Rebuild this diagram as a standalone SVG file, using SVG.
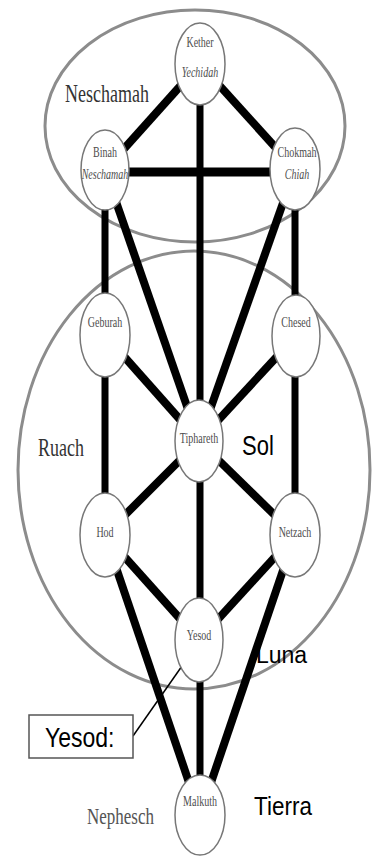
<svg xmlns="http://www.w3.org/2000/svg" width="385" height="856" viewBox="0 0 385 856">
<defs>
<style>
.big{fill:none;stroke:#8c8c8c;stroke-width:3}
.node{fill:#fff;stroke:#777;stroke-width:1.5}
.c{stroke:#000;stroke-linecap:butt;fill:none}
.lbl{font-family:"Liberation Serif",serif;font-size:10px;fill:#4d4d4d;text-anchor:middle}
.it{font-style:italic}
.sect{font-family:"Liberation Serif",serif;font-size:18px;fill:#333}
.sans{font-family:"Liberation Sans",sans-serif;fill:#000}
</style>
<marker id="ah" viewBox="0 0 10 10" refX="9" refY="5" markerWidth="7" markerHeight="7" orient="auto" markerUnits="userSpaceOnUse">
<path d="M0,0 L10,5 L0,10 z" fill="#000"/>
</marker>
</defs>
<rect width="385" height="856" fill="#fff"/>
<g id="regions">
<ellipse id="neschamah-region" class="big" cx="195" cy="126" rx="150" ry="116"/>
<ellipse id="ruach-region" class="big" cx="194" cy="470" rx="176" ry="219"/>
</g>
<g id="connectors">
<line class="c" stroke-width="8" x1="200" y1="64" x2="105" y2="170"/>
<line class="c" stroke-width="8" x1="200" y1="64" x2="295" y2="169"/>
<line class="c" stroke-width="7" x1="200" y1="64" x2="200" y2="441"/>
<line class="c" stroke-width="9" x1="105" y1="172" x2="295" y2="172"/>
<line class="c" stroke-width="7" x1="105" y1="170" x2="105" y2="535"/>
<line class="c" stroke-width="7" x1="295" y1="169" x2="295" y2="535"/>
<line class="c" stroke-width="8" x1="105" y1="170" x2="199" y2="441"/>
<line class="c" stroke-width="8" x1="295" y1="169" x2="199" y2="441"/>
<line class="c" stroke-width="8" x1="105" y1="335" x2="199" y2="441"/>
<line class="c" stroke-width="8" x1="296" y1="336" x2="199" y2="441"/>
<line class="c" stroke-width="8" x1="199" y1="441" x2="105" y2="535"/>
<line class="c" stroke-width="8" x1="199" y1="441" x2="295" y2="535"/>
<line class="c" stroke-width="7" x1="200" y1="441" x2="200" y2="815"/>
<line class="c" stroke-width="8" x1="105" y1="535" x2="199" y2="640"/>
<line class="c" stroke-width="8" x1="295" y1="535" x2="199" y2="640"/>
<line class="c" stroke-width="8" x1="105" y1="535" x2="200" y2="815"/>
<line class="c" stroke-width="8" x1="295" y1="535" x2="200" y2="815"/>
<line stroke="#000" stroke-width="1.5" x1="133" y1="736" x2="196" y2="646" marker-end="url(#ah)"/>
</g>
<g id="kether"><ellipse class="node" cx="200" cy="64" rx="25" ry="41"/>
<text class="lbl" transform="translate(200,47) scale(1,1.4)">Kether</text>
<text class="lbl it" transform="translate(200,77) scale(1,1.4)">Yechidah</text></g>
<g id="binah"><ellipse class="node" cx="105" cy="170" rx="24" ry="40"/>
<text class="lbl" transform="translate(105,157) scale(1,1.4)">Binah</text>
<text class="lbl it" transform="translate(105,179) scale(1,1.4)">Neschamah</text></g>
<g id="chokmah"><ellipse class="node" cx="295" cy="169" rx="25" ry="41"/>
<text class="lbl" transform="translate(297,157) scale(1,1.4)">Chokmah</text>
<text class="lbl it" transform="translate(297,179) scale(1,1.4)">Chiah</text></g>
<g id="geburah"><ellipse class="node" cx="105" cy="335" rx="25" ry="42"/>
<text class="lbl" transform="translate(105,327) scale(1,1.4)">Geburah</text></g>
<g id="chesed"><ellipse class="node" cx="296" cy="336" rx="24" ry="41"/>
<text class="lbl" transform="translate(296,327) scale(1,1.4)">Chesed</text></g>
<g id="tiphareth"><ellipse class="node" cx="199" cy="441" rx="24" ry="41"/>
<text class="lbl" transform="translate(199,443) scale(1,1.4)">Tiphareth</text></g>
<g id="hod"><ellipse class="node" cx="105" cy="535" rx="25" ry="42"/>
<text class="lbl" transform="translate(105,537) scale(1,1.4)">Hod</text></g>
<g id="netzach"><ellipse class="node" cx="295" cy="535" rx="25" ry="42"/>
<text class="lbl" transform="translate(295,537) scale(1,1.4)">Netzach</text></g>
<g id="yesod"><ellipse class="node" cx="199" cy="640" rx="24" ry="42"/>
<text class="lbl" transform="translate(199,640) scale(1,1.4)">Yesod</text></g>
<g id="malkuth"><ellipse class="node" cx="200" cy="815" rx="25" ry="40"/>
<text class="lbl" transform="translate(200,806) scale(1,1.4)">Malkuth</text></g>
<g id="labels">
<text class="sect" transform="translate(65,102) scale(1,1.4)">Neschamah</text>
<text class="sect" font-size="17" transform="translate(38,456) scale(1,1.45)">Ruach</text>
<text class="sect" style="font-size:17px;fill:#555" transform="translate(87,824) scale(1,1.3)">Nephesch</text>
<text class="sans" font-size="22" transform="translate(242,455) scale(1,1.27)">Sol</text>
<text class="sans" font-size="23" transform="translate(256,663)">Luna</text>
<text class="sans" font-size="22.5" transform="translate(254,815) scale(1,1.12)">Tierra</text>
</g>
<g id="yesod-callout">
<rect x="29" y="715" width="104" height="43" fill="#fff" stroke="#555" stroke-width="1.5"/>
<text class="sans" font-size="23" transform="translate(45,747) scale(1,1.21)">Yesod:</text>
</g>
</svg>
